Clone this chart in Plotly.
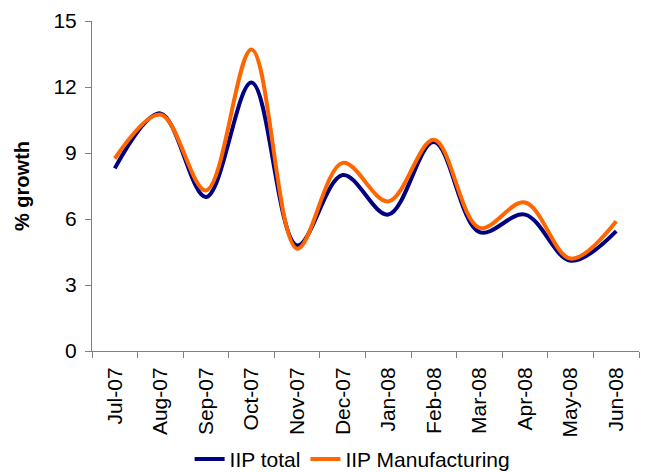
import plotly.graph_objects as go

months = ["Jul-07", "Aug-07", "Sep-07", "Oct-07", "Nov-07", "Dec-07",
          "Jan-08", "Feb-08", "Mar-08", "Apr-08", "May-08", "Jun-08"]
iip_total = [8.3, 10.8, 7.0, 12.2, 4.8, 8.0, 6.2, 9.5, 5.4, 6.2, 4.1, 5.45]
iip_manufacturing = [8.75, 10.75, 7.3, 13.7, 4.65, 8.55, 6.8, 9.6, 5.6, 6.75, 4.2, 5.9]

FONT = "Liberation Sans, Arial, sans-serif"

fig = go.Figure()
fig.add_trace(go.Scatter(x=months, y=iip_total, name="IIP total", mode="lines",
                         line=dict(color="#000080", width=4, shape="spline", smoothing=1)))
fig.add_trace(go.Scatter(x=months, y=iip_manufacturing, name="IIP Manufacturing", mode="lines",
                         line=dict(color="#FF6600", width=4, shape="spline", smoothing=1)))

fig.update_layout(
    width=647, height=472,
    margin=dict(l=92, r=8, t=21, b=121, autoexpand=False),
    paper_bgcolor="white", plot_bgcolor="white",
    font=dict(family=FONT, size=20, color="black"),
    showlegend=True,
    legend=dict(orientation="h", xref="container", yref="container",
                x=0.545, xanchor="center", y=0.027, yanchor="middle",
                font=dict(size=21), tracegroupgap=0),
    xaxis=dict(type="category", range=[-0.5, 11.5], tickangle=-90, tickson="boundaries",
               ticks="outside", ticklen=6, tickcolor="#808080", ticklabelstandoff=7,
               showline=True, linecolor="#808080", linewidth=1, automargin=False,
               showgrid=False, zeroline=False, tickfont=dict(size=21)),
    yaxis=dict(range=[0, 15], tickvals=[0, 3, 6, 9, 12, 15],
               ticks="outside", ticklen=6, tickcolor="#808080", ticklabelstandoff=4,
               showline=True, linecolor="#808080", linewidth=1, automargin=False,
               showgrid=False, zeroline=False, tickfont=dict(size=21),
               title=dict(text="<b>% growth</b>", font=dict(size=20), standoff=18)),
)

fig.write_html("out.html", config={"displayModeBar": False})
